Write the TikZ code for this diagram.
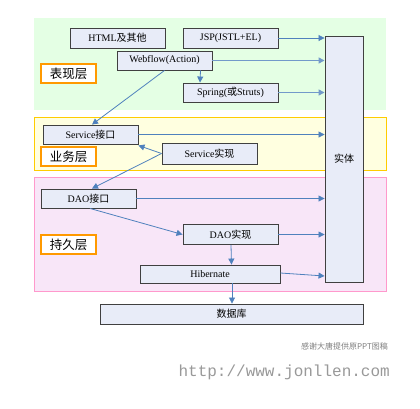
\documentclass[tikz,border=0pt]{standalone}
\usepackage{fontspec}
\setmainfont{Liberation Serif}
\newfontfamily\cjk{Noto Sans CJK SC}
\newfontfamily\monofam{Liberation Mono}
\usetikzlibrary{arrows.meta}
\definecolor{boxfill}{HTML}{E8ECF8}
\definecolor{boxline}{HTML}{404040}
\definecolor{arr}{HTML}{4F81BD}
\definecolor{greenfill}{HTML}{E4FFE4}
\definecolor{yelfill}{HTML}{FFFFE0}
\definecolor{yelline}{HTML}{FFCC00}
\definecolor{pinkfill}{HTML}{F8E6F8}
\definecolor{pinkline}{HTML}{FF99CC}
\definecolor{lblline}{HTML}{FF9900}
\tikzset{
  box/.style={draw=boxline, fill=boxfill, line width=0.9pt, inner sep=0pt, font=\fontsize{10}{11}\selectfont},
  layerlbl/.style={draw=lblline, fill=white, line width=1.2pt, inner sep=0pt, minimum width=55pt, minimum height=19pt, font=\cjk\fontsize{12.5}{13}\selectfont},
  conn/.style={draw=arr, line width=0.8pt, -{Triangle[length=6pt,width=6pt]}},
}
\begin{document}
\begin{tikzpicture}[x=1pt,y=-1pt]
\useasboundingbox[fill=white] (0,0) rectangle (420,408);
% layers
\fill[greenfill] (34,18) rectangle (386,110);
\draw[yelline, fill=yelfill, line width=0.8pt] (34,117) rectangle (386,170);
\draw[pinkline, fill=pinkfill, line width=0.8pt] (34,177) rectangle (386,291);
% layer labels
\node[layerlbl] (lbl1) at (68.5,73.5) {表现层};
\node[layerlbl] (lbl2) at (68.5,156.5) {业务层};
\node[layerlbl] (lbl3) at (68.5,244.5) {持久层};
% boxes
\node[box, minimum width=95pt, minimum height=20pt] (html) at (117.5,38) {HTML{\cjk 及其他}};
\node[box, minimum width=95pt, minimum height=20pt] (jsp) at (230.5,38) {JSP(JSTL+EL)};
\node[box, minimum width=95pt, minimum height=19pt] (webflow) at (164.5,60.5) {Webflow(Action)};
\node[box, minimum width=95pt, minimum height=19pt] (spring) at (230.5,92.5) {Spring({\cjk 或}Struts)};
\node[box, minimum width=38pt, minimum height=246pt] (entity) at (344,159) {\cjk 实体};
\node[box, minimum width=95pt, minimum height=19pt] (sif) at (90.5,134.5) {Service{\cjk 接口}};
\node[box, minimum width=95pt, minimum height=21pt] (simpl) at (209.5,153.5) {Service{\cjk 实现}};
\node[box, minimum width=95pt, minimum height=19pt] (dif) at (88.5,198.5) {DAO{\cjk 接口}};
\node[box, minimum width=95pt, minimum height=20pt] (dimpl) at (230.5,234.5) {DAO{\cjk 实现}};
\node[box, minimum width=140pt, minimum height=18pt] (hib) at (210,274) {Hibernate};
\node[box, minimum width=263pt, minimum height=20pt] (db) at (231.5,314) {\cjk 数据库};
% connectors
\draw[conn] (jsp.east) -- (entity.west |- jsp.east);
\draw[conn, line width=1.3pt, draw=arr!80] (webflow.east) -- (entity.west |- webflow.east);
\draw[conn] ([xshift=36pt]webflow.south) -- ([xshift=-30.5pt]spring.north);
\draw[conn, line width=1.3pt, draw=arr!80] (spring.east) -- (entity.west |- spring.east);
\draw[conn] (webflow.south) -- ([xshift=1.5pt]sif.north);
\draw[conn] (sif.east) -- (entity.west |- sif.east);
\draw[conn] (simpl.west) -- ([yshift=-1pt]sif.south east);
\draw[conn] (simpl.west) -- ([xshift=3.5pt]dif.north);
\draw[conn] (dif.east) -- (entity.west |- dif.east);
\draw[conn] ([xshift=1.5pt]dif.south) -- (dimpl.west);
\draw[conn] (dimpl.east) -- (entity.west |- dimpl.east);
\draw[conn] ([xshift=0.5pt]dimpl.south) -- ([xshift=21.5pt]hib.north);
\draw[conn] ([yshift=1pt]hib.east) -- ([yshift=-2pt]entity.west |- hib.east);
\draw[conn] ([xshift=22pt]hib.south) -- ([xshift=0.5pt]db.north);
% footer texts
\node[anchor=east, text=black!50, inner sep=0pt, font=\cjk\fontsize{8}{9}\selectfont] (thanks) at (388,346) {感谢大唐提供原PPT图稿};
\node[anchor=east, text=black!40, inner sep=0pt, font=\monofam\fontsize{16}{17}\selectfont] (url) at (390,372) {http://www.jonllen.com};
\end{tikzpicture}
\end{document}
